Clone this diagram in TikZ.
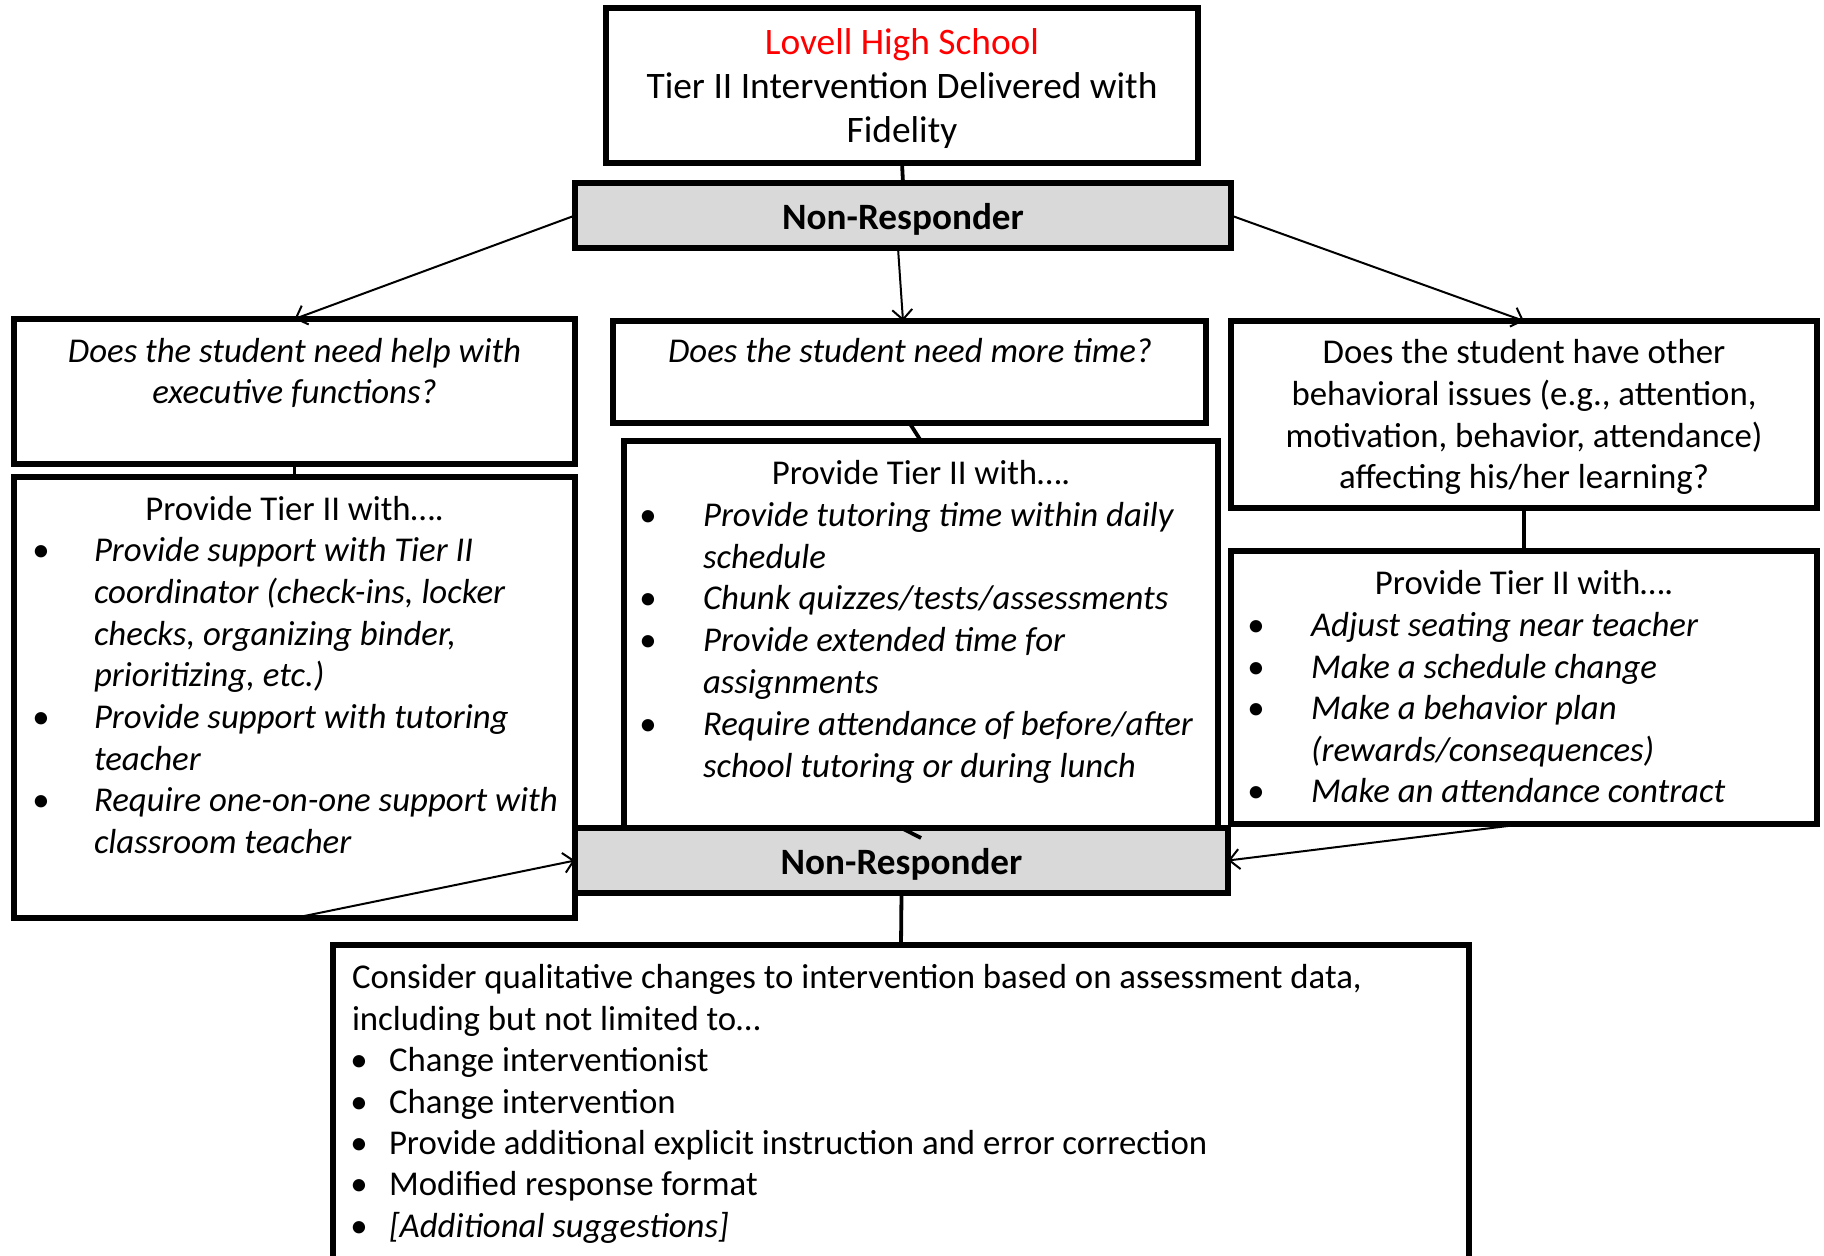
\documentclass[tikz,border=0pt]{standalone}
\usepackage{fontspec}
\setmainfont{Carlito}
\usetikzlibrary{arrows.meta}
\definecolor{nrgray}{RGB}{217,217,217}
\tikzset{
  x=0.5pt, y=-0.5pt,
  box/.style={draw, line width=2.7pt, inner sep=0pt, outer sep=0pt, fill=white},
  nrbox/.style={box, fill=nrgray},
  nrtxt/.style={inner sep=0pt, outer sep=0pt, anchor=center, font=\fontsize{18.6}{22}\selectfont\bfseries},
  txt/.style={inner sep=0pt, outer sep=0pt, font=\fontsize{17.4}{20.8}\selectfont},
  ctxt/.style={txt, anchor=base, align=center},
  itxt/.style={txt, anchor=base west, align=left, font=\fontsize{17.4}{20.8}\selectfont\itshape},
  ltxt/.style={txt, anchor=base west, align=left},
  bul/.style={txt, anchor=base},
  link/.style={line width=1.9pt},
  arr/.style={line width=1pt, -{Straight Barb[length=5pt,width=10pt]}},
}
\begin{document}
\begin{tikzpicture}
\useasboundingbox (0,0) rectangle (1824,1256);
\clip (0,0) rectangle (1824,1256);

% boxes
\node[box, minimum width=296pt, minimum height=77.5pt] (top) at (902,85.5) {};
\node[nrbox, minimum width=328pt, minimum height=32.5pt] (nr1) at (903,215.5) {};
\node[box, minimum width=280.5pt, minimum height=72.5pt] (lq) at (294.5,391.5) {};
\node[box, minimum width=296.5pt, minimum height=51pt] (mq) at (909.5,372) {};
\node[box, minimum width=293pt, minimum height=93.5pt] (rq) at (1524,414.5) {};
\node[box, minimum width=280.5pt, minimum height=220.5pt] (lp) at (294.5,697.5) {};
\node[box, minimum width=297pt, minimum height=198.5pt] (mp) at (921,639.5) {};
\node[box, minimum width=293pt, minimum height=136.5pt] (rp) at (1524,687.5) {};
\node[nrbox, minimum width=326.5pt, minimum height=32.5pt] (nr2) at (901.5,860.5) {};
\node[box, minimum width=568pt, minimum height=167.5pt] (bot) at (901,1112.5) {};

% labels of the two grey bars
\node[nrtxt] (nr1txt) at ([yshift=-1.8pt]nr1.center) {Non-Responder};
\node[nrtxt] (nr2txt) at ([yshift=-1.8pt]nr2.center) {Non-Responder};

% title box (multi-line nodes are placed by the baseline of their last line)
\node[ctxt, font=\fontsize{18.7}{22}\selectfont] (toptxt) at (902,142.5)
  {\textcolor{red}{Lovell High School}\\Tier II Intervention Delivered with\\Fidelity};

\begin{scope}[yshift=-1.9pt]
% questions
\node[ctxt, font=\fontsize{17.4}{20.8}\selectfont\itshape] (lqtxt) at (294.5,400)
  {Does the student need help with\\executive functions?};
\node[ctxt, font=\fontsize{17.4}{20.8}\selectfont\itshape] (mqtxt) at (910,359)
  {Does the student need more time?};
\node[ctxt] (rqtxt) at (1524,485)
  {Does the student have other\\behavioral issues (e.g., attention,\\motivation, behavior, attendance)\\affecting his/her learning?};

% left list
\node[ctxt] (lptitle) at (294.5,517) {Provide Tier II with….};
\node[bul] (lpb1) at (41,558) {\textbullet};
\node[itxt] (lpi1) at (94,682.8) {Provide support with Tier II\\coordinator (check-ins, locker\\checks, organizing binder,\\prioritizing, etc.)};
\node[bul] (lpb2) at (41,725) {\textbullet};
\node[itxt] (lpi2) at (94,766.6) {Provide support with tutoring\\teacher};
\node[bul] (lpb3) at (41,808) {\textbullet};
\node[itxt] (lpi3) at (94,849.6) {Require one-on-one support with\\classroom teacher};

% middle list
\node[ctxt] (mptitle) at (921,481) {Provide Tier II with….};
\node[bul] (mpb1) at (648,523) {\textbullet};
\node[itxt] (mpi1) at (703,564.6) {Provide tutoring time within daily\\schedule};
\node[bul] (mpb2) at (648,606) {\textbullet};
\node[itxt] (mpi2) at (703,606) {Chunk quizzes/tests/assessments};
\node[bul] (mpb3) at (648,648) {\textbullet};
\node[itxt] (mpi3) at (703,689.6) {Provide extended time for\\assignments};
\node[bul] (mpb4) at (648,732) {\textbullet};
\node[itxt] (mpi4) at (703,773.6) {Require attendance of before/after\\school tutoring or during lunch};

% right list
\node[ctxt] (rptitle) at (1524,591) {Provide Tier II with….};
\node[bul] (rpb1) at (1256,633) {\textbullet};
\node[itxt] (rpi1) at (1311,633) {Adjust seating near teacher};
\node[bul] (rpb2) at (1256,675) {\textbullet};
\node[itxt] (rpi2) at (1311,675) {Make a schedule change};
\node[bul] (rpb3) at (1256,716) {\textbullet};
\node[itxt] (rpi3) at (1311,757.6) {Make a behavior plan\\(rewards/consequences)};
\node[bul] (rpb4) at (1256,799) {\textbullet};
\node[itxt] (rpi4) at (1311,799) {Make an attendance contract};

% bottom list
\node[ltxt] (bottxt) at (352,1026.6) {Consider qualitative changes to intervention based on assessment data,\\including but not limited to…};
\node[bul] (bb1) at (359,1068) {\textbullet};
\node[ltxt] (bi1) at (389,1068) {Change interventionist};
\node[bul] (bb2) at (359,1110) {\textbullet};
\node[ltxt] (bi2) at (389,1110) {Change intervention};
\node[bul] (bb3) at (359,1151) {\textbullet};
\node[ltxt] (bi3) at (389,1151) {Provide additional explicit instruction and error correction};
\node[bul] (bb4) at (359,1192) {\textbullet};
\node[ltxt] (bi4) at (389,1192) {Modified response format};
\node[bul] (bb5) at (359,1234) {\textbullet};
\node[itxt] (bi5) at (389,1234) {[Additional suggestions]};
\end{scope}

% connectors
\draw[link] (top.south) -- (nr1.north);
\draw[arr] (nr1.west) -- (lq.north);
\draw[arr] ([xshift=-2.5pt]nr1.south) -- ([xshift=-3.25pt]mq.north);
\draw[arr] (nr1.east) -- (rq.north);
\draw[link] (lq.south) -- (lp.north);
\draw[link] (mq.south) -- (mp.north);
\draw[link] (rq.south) -- (rp.north);
\draw[link] (mp.south) -- (nr2.north);
\draw[arr] (lp.south) -- (nr2.west);
\draw[arr] (rp.south) -- (nr2.east);
\draw[link] (nr2.south) -- (bot.north);
\end{tikzpicture}
\end{document}
